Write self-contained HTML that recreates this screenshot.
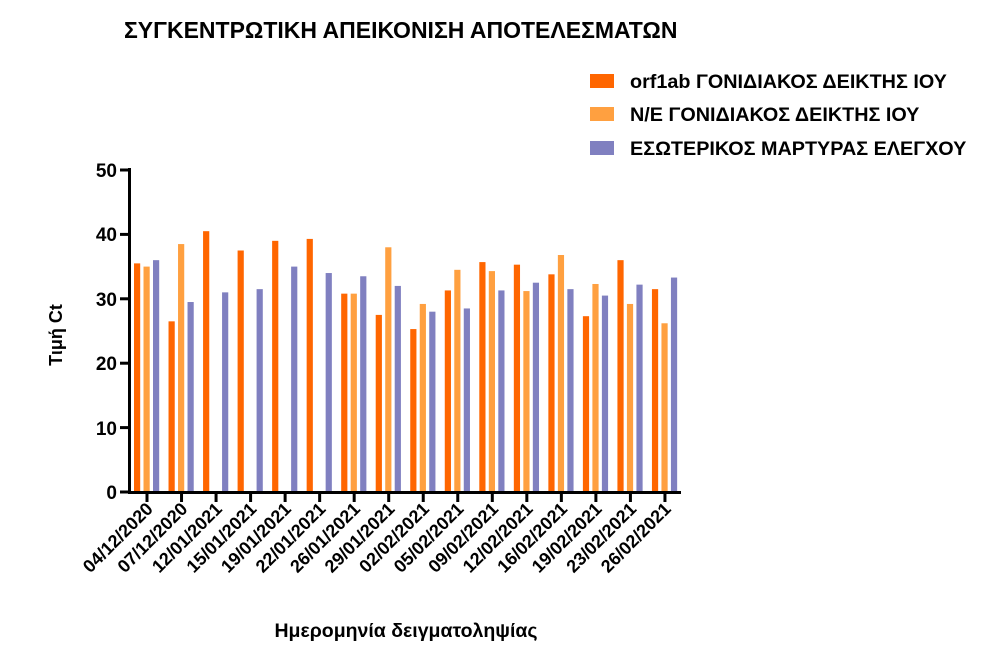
<!DOCTYPE html>
<html><head><meta charset="utf-8"><style>body{margin:0;background:#fff}svg{display:block}text{font-family:"Liberation Sans",Arial,sans-serif;font-weight:bold;fill:#000}</style></head><body>
<svg width="1004" height="653" xmlns="http://www.w3.org/2000/svg">
<text x="124" y="38" font-size="23">ΣΥΓΚΕΝΤΡΩΤΙΚΗ ΑΠΕΙΚΟΝΙΣΗ ΑΠΟΤΕΛΕΣΜΑΤΩΝ</text>
<rect x="590" y="74" width="24" height="14" fill="#ff6600"/><text x="630" y="88" font-size="19.8">orf1ab ΓΟΝΙΔΙΑΚΟΣ ΔΕΙΚΤΗΣ ΙΟΥ</text>
<rect x="590" y="107" width="24" height="14" fill="#ffa040"/><text x="630" y="121" font-size="19.8">N/E ΓΟΝΙΔΙΑΚΟΣ ΔΕΙΚΤΗΣ ΙΟΥ</text>
<rect x="590" y="141" width="24" height="14" fill="#8080c0"/><text x="630" y="155" font-size="19.8">ΕΣΩΤΕΡΙΚΟΣ ΜΑΡΤΥΡΑΣ ΕΛΕΓΧΟΥ</text>
<text transform="translate(62,335) rotate(-90)" text-anchor="middle" font-size="18">Τιμή Ct</text>
<text x="406" y="637" text-anchor="middle" font-size="19.5">Ημερομηνία δειγματοληψίας</text>
<g id="bars"></g>
<g font-size="19" text-anchor="end">
<text x="117" y="499">0</text><text x="117" y="435">10</text><text x="117" y="370">20</text><text x="117" y="306">30</text><text x="117" y="241">40</text><text x="117" y="177">50</text>
</g>
<g stroke="#000" stroke-width="3">
<line x1="129.5" y1="168" x2="129.5" y2="493"/><line x1="128" y1="492.5" x2="681" y2="492.5"/>
<line x1="120" y1="170" x2="130" y2="170"/><line x1="120" y1="234.4" x2="130" y2="234.4"/><line x1="120" y1="298.8" x2="130" y2="298.8"/><line x1="120" y1="363.2" x2="130" y2="363.2"/><line x1="120" y1="427.6" x2="130" y2="427.6"/><line x1="120" y1="492" x2="130" y2="492"/>
</g>
<g id="ticks"></g>
</svg>
<script>
var d=[[35.5,35,36],[26.5,38.5,29.5],[40.5,0,31],[37.5,0,31.5],[39,0,35],[39.3,0,34],[30.8,30.8,33.5],[27.5,38,32],[25.3,29.2,28],[31.3,34.5,28.5],[35.7,34.3,31.3],[35.3,31.2,32.5],[33.8,36.8,31.5],[27.3,32.3,30.5],[36,29.2,32.2],[31.5,26.2,33.3]];
var L=["04/12/2020","07/12/2020","12/01/2021","15/01/2021","19/01/2021","22/01/2021","26/01/2021","29/01/2021","02/02/2021","05/02/2021","09/02/2021","12/02/2021","16/02/2021","19/02/2021","23/02/2021","26/02/2021"];
var c=["#ff6600","#ffa040","#8080c0"],s="",t="";
for(var i=0;i<16;i++){var x=147+i*34.53;
for(var j=0;j<3;j++){var v=d[i][j];if(!v)continue;var h=v*6.44;s+='<rect x="'+(x-13+j*9.5)+'" y="'+(492-h)+'" width="6.2" height="'+h+'" fill="'+c[j]+'"/>';}
t+='<line x1="'+x+'" y1="492" x2="'+x+'" y2="502" stroke="#000" stroke-width="3"/>';
t+='<text transform="translate('+(x+7)+',510) rotate(-45)" text-anchor="end" font-size="18">'+L[i]+'</text>';}
document.getElementById("bars").innerHTML=s;document.getElementById("ticks").innerHTML=t;
</script>
</body></html>
